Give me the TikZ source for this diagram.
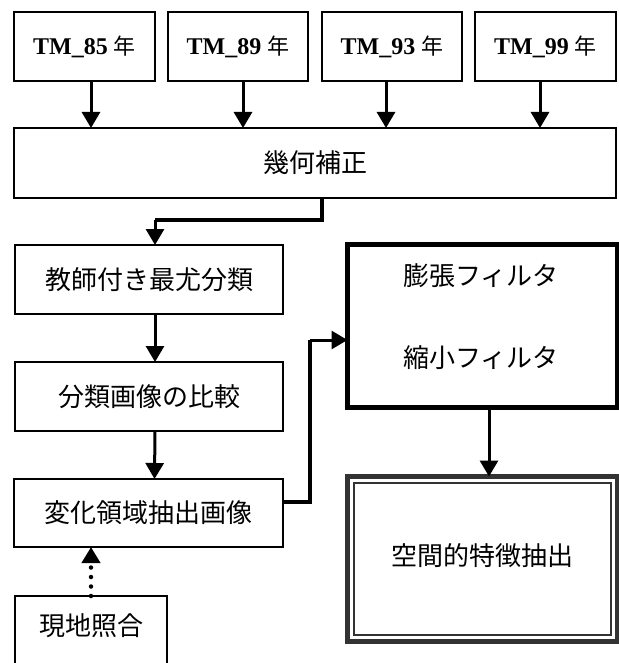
\documentclass[tikz,border=0pt]{standalone}
\usepackage{fontspec}
\setmainfont{Liberation Serif}
\newfontfamily\cjk{Noto Sans CJK JP}
\usetikzlibrary{arrows.meta}
\tikzset{
  box/.style={draw=black, line width=2.3pt, rectangle, inner sep=0pt, outer sep=0pt, fill=white},
  heavybox/.style={draw=black, line width=5pt, rectangle, inner sep=0pt, outer sep=0pt},
  framebox/.style={draw=black!80, line width=5pt, rectangle, inner sep=0pt, outer sep=0pt},
  jtxt/.style={font=\cjk\fontsize{26}{30}\selectfont, inner sep=0pt},
  ytxt/.style={font=\bfseries\fontsize{24}{26}\selectfont, inner sep=0pt},
  arr/.style={line width=3pt, -{Triangle[length=16pt,width=18pt]}},
  link/.style={line width=3.2pt, line join=miter},
  dotarr/.style={line width=4.5pt, line cap=round, dash pattern=on 0pt off 9.5pt, -{Triangle[length=16pt,width=18pt]}}
}
\begin{document}
\begin{tikzpicture}[x=1pt,y=-1pt]
\useasboundingbox (0,0) rectangle (618,663);
% top boxes
\node[box, minimum width=141pt, minimum height=69pt] (t1) at (84.5,46.5) {};
\node[box, minimum width=140pt, minimum height=69pt] (t2) at (238,46.5) {};
\node[box, minimum width=140pt, minimum height=69pt] (t3) at (392,46.5) {};
\node[box, minimum width=141pt, minimum height=69pt] (t4) at (545.5,46.5) {};
\node[ytxt] (l1) at (t1) {TM\_85 {\cjk\fontsize{22}{26}\selectfont\mdseries 年}};
\node[ytxt] (l2) at (t2) {TM\_89 {\cjk\fontsize{22}{26}\selectfont\mdseries 年}};
\node[ytxt] (l3) at (t3) {TM\_93 {\cjk\fontsize{22}{26}\selectfont\mdseries 年}};
\node[ytxt] (l4) at (t4) {TM\_99 {\cjk\fontsize{22}{26}\selectfont\mdseries 年}};
% geometric correction
\node[box, minimum width=602pt, minimum height=70pt] (geo) at (315,163) {};
\node[jtxt] (geol) at (geo) {幾何補正};
\draw[arr] ([xshift=6.5pt]t1.south) -- ([xshift=6.5pt]t1.south |- geo.north);
\draw[arr] ([xshift=5pt]t2.south) -- ([xshift=5pt]t2.south |- geo.north);
\draw[arr] ([xshift=-6pt]t3.south) -- ([xshift=-6pt]t3.south |- geo.north);
\draw[arr] ([xshift=-5.5pt]t4.south) -- ([xshift=-5.5pt]t4.south |- geo.north);
% left column
\node[box, minimum width=268pt, minimum height=69pt] (kyoshi) at (149,279.5) {};
\node[jtxt] (kyoshil) at (kyoshi) {教師付き最尤分類};
\node[box, minimum width=268pt, minimum height=69pt] (bunrui) at (149,396.5) {};
\node[jtxt] (bunruil) at (bunrui) {分類画像の比較};
\node[box, minimum width=269pt, minimum height=68pt] (henka) at (148.5,513) {};
\node[jtxt] (henkal) at (henka) {変化領域抽出画像};
\node[box, minimum width=152pt, minimum height=104pt] (genchi) at (91,648) {};
\node[jtxt] (genchil) at (91,626) {現地照合};
% right column
\node[heavybox, minimum width=270pt, minimum height=163pt] (boucho) at (482.5,326) {};
\node[jtxt] (bouchol1) at (481,276) {膨張フィルタ};
\node[jtxt] (bouchol2) at (481,358) {縮小フィルタ};
\node[framebox, minimum width=270pt, minimum height=165pt] (kukan) at (482.5,559) {};
\draw[draw=black!80, line width=1.3pt] ([shift={(6.5,6.5)}]kukan.north west) rectangle ([shift={(-6.5,-6.5)}]kukan.south east);
\node[jtxt] (kukanl) at (482,556) {空間的特徴抽出};
% connectors
\coordinate (c1) at (322,220);
\coordinate (c2) at (155,220);
\draw[link] (geo.south -| c1) -- (c1) -- (c2);
\draw[arr] (c2) -- ([xshift=6pt]kyoshi.north);
\draw[arr] ([xshift=6pt]kyoshi.south) -- ([xshift=6pt]bunrui.north);
\draw[arr] ([xshift=6pt]bunrui.south) -- ([xshift=6pt]henka.north);
\coordinate (c3) at (310,502);
\coordinate (c4) at (310,340);
\draw[link] (henka.east |- c3) -- (c3) -- (c4);
\draw[arr] (c4) -- (boucho.west |- c4);
\draw[arr] ([xshift=6.5pt]boucho.south) -- ([xshift=6.5pt]kukan.north);
\draw[dotarr] (genchi.north) -- (henka.south -| genchi.north);
\end{tikzpicture}
\end{document}
